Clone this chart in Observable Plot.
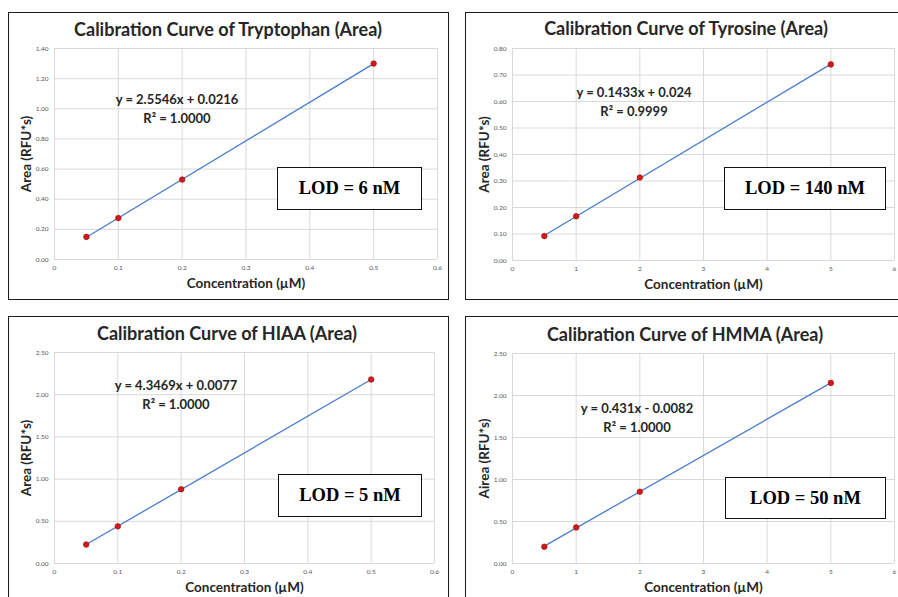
<!DOCTYPE html>
<html>
<head>
<meta charset="utf-8">
<script src="https://cdn.jsdelivr.net/npm/d3@7"></script>
<script src="https://cdn.jsdelivr.net/npm/@observablehq/plot@0.6"></script>
<style>
  html, body { margin: 0; padding: 0; background: #fff; }
  #root { position: relative; width: 898px; height: 597px; overflow: hidden; background: #fff; font-family: Lato, "Open Sans", sans-serif; }
  .border { position: absolute; border: 1.3px solid #1a1a1a; box-sizing: border-box; }
  .title { position: absolute; transform: translate(-50%, -50%); white-space: nowrap; font-weight: bold; font-size: 18px; color: #262626; }
  .eq { position: absolute; transform: translate(-50%, 0); white-space: nowrap; font-weight: bold; font-size: 13px; color: #262626; text-align: center; line-height: 18.5px; }
  .lod { position: absolute; border: 1px solid #111; box-sizing: border-box; display: flex; align-items: center; justify-content: center; background: #fff;
         font-family: "Liberation Serif", "Times New Roman", serif; font-weight: bold; font-size: 18.5px; color: #000; }
</style>
</head>
<body>
<div id="root"></div>
<script>
// ---- data ----
const tryptophanConc = [0.05, 0.1, 0.2, 0.5];
const tryptophanArea = [0.15, 0.275, 0.53, 1.30];
const tyrosineConc = [0.5, 1, 2, 5];
const tyrosineArea = [0.092, 0.167, 0.313, 0.74];
const hiaaConc = [0.05, 0.1, 0.2, 0.5];
const hiaaArea = [0.225, 0.44, 0.88, 2.18];
const hmmaConc = [0.5, 1, 2, 5];
const hmmaArea = [0.20, 0.43, 0.855, 2.15];

const xTicksSmall = [0, 0.1, 0.2, 0.3, 0.4, 0.5, 0.6];
const xTicksLarge = [0, 1, 2, 3, 4, 5, 6];
const yTicksTryptophan = [0, 0.2, 0.4, 0.6, 0.8, 1.0, 1.2, 1.4];
const yTicksTyrosine = [0, 0.1, 0.2, 0.3, 0.4, 0.5, 0.6, 0.7, 0.8];
const yTicksLarge = [0, 0.5, 1.0, 1.5, 2.0, 2.5];

const titles = ["Calibration Curve of Tryptophan (Area)", "Calibration Curve of Tyrosine (Area)",
                "Calibration Curve of HIAA (Area)", "Calibration Curve of HMMA (Area)"];
const equations = ["y = 2.5546x + 0.0216", "y = 0.1433x + 0.024", "y = 4.3469x + 0.0077", "y = 0.431x - 0.0082"];
const rSquared = ["R² = 1.0000", "R² = 0.9999", "R² = 1.0000", "R² = 1.0000"];
const lodLabels = ["LOD = 6 nM", "LOD = 140 nM", "LOD = 5 nM", "LOD = 50 nM"];
const xLabel = "Concentration (µM)";
const yLabels = ["Area (RFU*s)", "Area (RFU*s)", "Area (RFU*s)", "Airea (RFU*s)"];

// ---- layout ----
const panels = [
  {conc: tryptophanConc, area: tryptophanArea, xt: xTicksSmall, yt: yTicksTryptophan,
   svg: {left: 8, top: 12, width: 440, height: 287, mL: 46, mR: 11, mT: 36, mB: 40},
   border: {left: 8, top: 12, width: 441, height: 288},
   title: [228, 29], eq: [177, 90], lod: {left: 277, top: 167, width: 145, height: 43}},
  {conc: tyrosineConc, area: tyrosineArea, xt: xTicksLarge, yt: yTicksTyrosine,
   svg: {left: 465, top: 12, width: 440, height: 287, mL: 47, mR: 11, mT: 36, mB: 39},
   border: {left: 465, top: 12, width: 445, height: 288},
   title: [686, 28], eq: [634, 83], lod: {left: 724, top: 167, width: 162, height: 43}},
  {conc: hiaaConc, area: hiaaArea, xt: xTicksSmall, yt: yTicksLarge,
   svg: {left: 8, top: 316, width: 440, height: 281, mL: 46, mR: 14, mT: 36, mB: 34},
   border: {left: 8, top: 316, width: 441, height: 300},
   title: [227, 333], eq: [176, 376], lod: {left: 278, top: 474, width: 144, height: 43}},
  {conc: hmmaConc, area: hmmaArea, xt: xTicksLarge, yt: yTicksLarge,
   svg: {left: 465, top: 316, width: 440, height: 281, mL: 47, mR: 11, mT: 37, mB: 34},
   border: {left: 465, top: 316, width: 445, height: 300},
   title: [685, 334], eq: [637, 399], lod: {left: 725, top: 477, width: 161, height: 42}}
];

const root = document.getElementById("root");
const fmtX = d => String(d);
const fmtY = d3.format(".2f");

panels.forEach((p, i) => {
  const data = p.conc.map((x, k) => ({x, y: p.area[k]}));
  const s = p.svg;
  const chart = Plot.plot({
    width: s.width, height: s.height,
    marginLeft: s.mL, marginRight: s.mR, marginTop: s.mT, marginBottom: s.mB,
    style: {background: "transparent", fontFamily: "Lato, sans-serif", overflow: "visible"},
    x: {domain: [p.xt[0], p.xt[p.xt.length - 1]]},
    y: {domain: [p.yt[0], p.yt[p.yt.length - 1]]},
    marks: [
      Plot.gridX(p.xt, {stroke: "#d9d9d9", strokeOpacity: 1, strokeWidth: 1}),
      Plot.gridY(p.yt, {stroke: "#d9d9d9", strokeOpacity: 1, strokeWidth: 1}),
      Plot.axisX(p.xt, {tickSize: 0, tickPadding: 6, fontSize: 6.5, fill: "#595959", tickFormat: fmtX, label: null}),
      Plot.axisY(p.yt, {tickSize: 0, tickPadding: 6, fontSize: 6.5, fill: "#595959", tickFormat: fmtY, label: null}),
      Plot.linearRegressionY(data, {x: "x", y: "y", ci: 0, stroke: "#4a7bd0", strokeWidth: 1.3}),
      Plot.dot(data, {x: "x", y: "y", r: 2.8, fill: "#d21a1a", stroke: "#9e0a0a", strokeWidth: 0.6}),
      Plot.text([xLabel], {text: d => d, frameAnchor: "bottom", dy: 24, fontSize: 13.5, fontWeight: "bold", fill: "#262626", lineAnchor: "middle"}),
      Plot.text([yLabels[i]], {text: d => d, frameAnchor: "left", dx: -28, rotate: -90, textAnchor: "middle", lineAnchor: "middle", fontSize: 13.5, fontWeight: "bold", fill: "#262626"})
    ]
  });
  chart.style.position = "absolute";
  chart.style.left = s.left + "px";
  chart.style.top = s.top + "px";

  const b = document.createElement("div");
  b.className = "border";
  Object.assign(b.style, {left: p.border.left + "px", top: p.border.top + "px", width: p.border.width + "px", height: p.border.height + "px"});
  root.appendChild(b);
  root.appendChild(chart);

  const t = document.createElement("div");
  t.className = "title";
  t.textContent = titles[i];
  t.style.left = p.title[0] + "px"; t.style.top = p.title[1] + "px";
  root.appendChild(t);

  const e = document.createElement("div");
  e.className = "eq";
  const l1 = document.createElement("div"); l1.textContent = equations[i];
  const l2 = document.createElement("div"); l2.textContent = rSquared[i];
  e.appendChild(l1); e.appendChild(l2);
  e.style.left = p.eq[0] + "px"; e.style.top = p.eq[1] + "px";
  root.appendChild(e);

  const lb = document.createElement("div");
  lb.className = "lod";
  lb.textContent = lodLabels[i];
  Object.assign(lb.style, {left: p.lod.left + "px", top: p.lod.top + "px", width: p.lod.width + "px", height: p.lod.height + "px"});
  root.appendChild(lb);
});
</script>
</body>
</html>
